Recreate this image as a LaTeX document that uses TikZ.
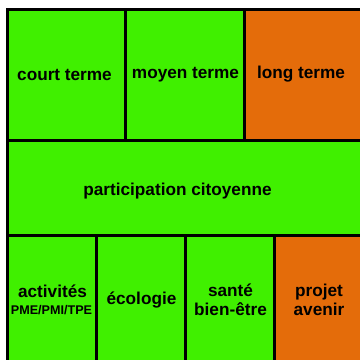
\documentclass[tikz,border=0pt]{standalone}
\usepackage{fontspec}
\setmainfont{Liberation Sans}
\definecolor{vert}{HTML}{40F000}
\definecolor{orange}{HTML}{E46C0A}
\newcommand{\petit}{\bfseries\fontsize{12.6}{14}\selectfont}
\begin{document}
\begin{tikzpicture}[
        x=1pt, y=-1pt,
        cell/.style={
            draw=black,
            line width=3pt,
            fill=vert,
            anchor=north west,
            align=center,
            inner sep=0pt,
            outer sep=0pt,
            font=\bfseries\fontsize{17.2}{19.5}\selectfont
        }
    ]
        \clip (0,0) rectangle (360,360);
        \fill[white] (0,0) rectangle (360,360);

        % top row
        \node[cell, minimum width=118pt, minimum height=131pt] (court) at (8,9)
            {court terme\hspace*{5pt}};
        \node[cell, minimum width=119pt, minimum height=131pt] (moyen) at (126,9)
            {moyen terme};
        \node[cell, fill=orange, minimum width=118pt, minimum height=131pt] (long) at (245,9)
            {long terme\hspace*{6pt}};

        % middle row
        \node[cell, minimum width=355pt, minimum height=95pt] (citoyen) at (8,140)
            {\raisebox{-1.5pt}[0.7em][0pt]{participation citoyenne}\hspace*{16pt}};

        % bottom row
        \node[cell, minimum width=89pt, minimum height=130pt] (activ) at (8,235)
            {activités\\[-3pt]{\petit PME/PMI/TPE}\hspace*{2pt}};
        \node[cell, minimum width=89pt, minimum height=130pt] (ecolo) at (97,235)
            {écologie};
        \node[cell, minimum width=89pt, minimum height=130pt] (sante) at (186,235)
            {santé\\bien-être};
        \node[cell, fill=orange, minimum width=88pt, minimum height=130pt] (projet) at (275,235)
            {projet\\avenir};
    \end{tikzpicture}
\end{document}
